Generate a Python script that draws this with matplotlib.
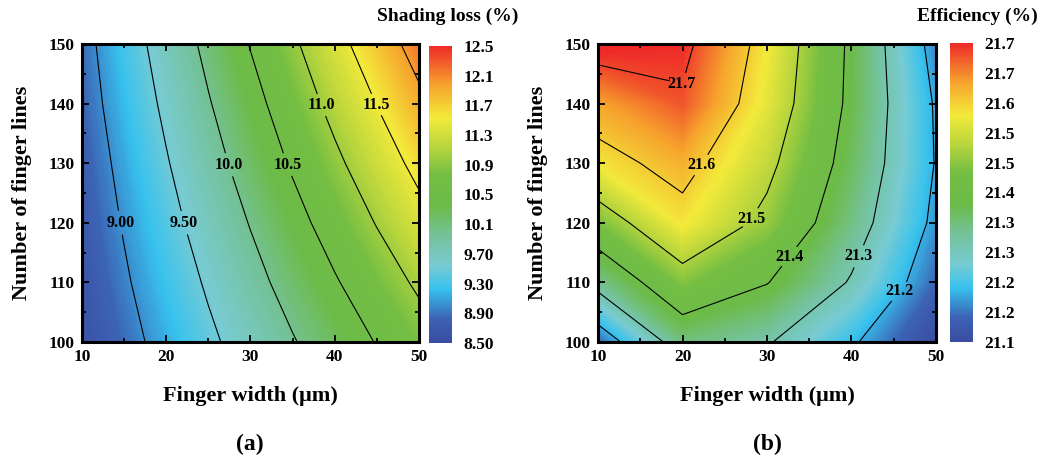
import numpy as np
import matplotlib
matplotlib.use('Agg')
import matplotlib.pyplot as plt
from matplotlib.colors import LinearSegmentedColormap, Normalize
from matplotlib.cm import ScalarMappable

# (a) shading loss (%) on finger width x number of finger lines
width_a = [10, 15, 20, 25, 30, 35, 40, 45, 50]
lines_a = [100, 110, 120, 130, 140, 150]
shading = [
    [8.59, 8.86, 9.14, 9.42, 9.69, 9.97, 10.24, 10.52, 10.80],
    [8.64, 8.95, 9.25, 9.55, 9.86, 10.16, 10.46, 10.77, 11.07],
    [8.70, 9.03, 9.36, 9.69, 10.02, 10.35, 10.69, 11.02, 11.35],
    [8.75, 9.11, 9.47, 9.83, 10.19, 10.55, 10.91, 11.27, 11.62],
    [8.81, 9.20, 9.58, 9.97, 10.35, 10.74, 11.13, 11.51, 11.90],
    [8.86, 9.28, 9.69, 10.11, 10.52, 10.93, 11.35, 11.76, 12.18],
]
levels_a = [9.0, 9.5, 10.0, 10.5, 11.0, 11.5]   # labelled
extra_a = [12.0]                                 # drawn, no label
cbar_a = [8.50, 8.90, 9.30, 9.70, 10.1, 10.5, 10.9, 11.3, 11.7, 12.1, 12.5]
cbar_a_labels = ['8.50', '8.90', '9.30', '9.70', '10.1', '10.5', '10.9',
                 '11.3', '11.7', '12.1', '12.5']

# (b) efficiency (%)
width_b = [10, 20, 30, 40, 50]
lines_b = [100, 110, 120, 130, 140, 150]
efficiency = [
    [21.147, 21.345, 21.307, 21.210, 21.098],
    [21.329, 21.465, 21.403, 21.293, 21.150],
    [21.456, 21.575, 21.480, 21.340, 21.183],
    [21.575, 21.625, 21.520, 21.367, 21.196],
    [21.635, 21.690, 21.555, 21.382, 21.192],
    [21.735, 21.720, 21.570, 21.385, 21.170],
]
levels_b = [21.2, 21.3, 21.4, 21.5, 21.6, 21.7]
extra_b = [21.1]
cbar_b_lim = (21.1, 21.72)
cbar_b_labels = ['21.1', '21.2', '21.2', '21.3', '21.3', '21.4', '21.5',
                 '21.5', '21.6', '21.7', '21.7']

plt.rcParams['font.family'] = ['Liberation Serif', 'DejaVu Serif']
plt.rcParams['font.weight'] = 'bold'
plt.rcParams['axes.labelweight'] = 'bold'

cmap = LinearSegmentedColormap.from_list('origin', [
    (0.00, '#3A4DA0'), (0.08, '#3C62B4'), (0.18, '#37C2EE'),
    (0.26, '#78CBD2'), (0.36, '#74C29A'), (0.46, '#6CBB48'),
    (0.57, '#74BE43'), (0.66, '#B8D53C'), (0.76, '#F3EA3A'),
    (0.87, '#F6A32D'), (1.00, '#EE2B29')])

fig = plt.figure(figsize=(10.4, 4.58), dpi=100)
ax_a = fig.add_axes([0.0788, 0.2533, 0.324, 0.6507])
cax_a = fig.add_axes([0.4125, 0.2511, 0.0221, 0.6485])
ax_b = fig.add_axes([0.575, 0.2533, 0.325, 0.6507])
cax_b = fig.add_axes([0.9135, 0.2533, 0.0221, 0.6528])


def panel(ax, cax, xs, ys, z, vmin, vmax, levels, extra, spots, fmt,
          cticks, clabels, title, tx):
    z = np.array(z)
    norm = Normalize(vmin, vmax)
    ax.contourf(xs, ys, z, levels=np.linspace(vmin, vmax, 300), cmap=cmap,
                norm=norm, extend='both')
    ax.contour(xs, ys, z, levels=extra, colors='k', linewidths=0.8)
    cs = ax.contour(xs, ys, z, levels=levels, colors='k', linewidths=0.8)
    txts = ax.clabel(cs, manual=spots, fmt=fmt, fontsize=11.5, inline=True,
                     inline_spacing=-2)
    for t in txts:
        t.set_fontweight('bold')
        t.set_rotation(0)
    ax.set_xlim(10, 50)
    ax.set_ylim(100, 150)
    ax.set_xticks([10, 20, 30, 40, 50])
    ax.set_xticks([15, 25, 35, 45], minor=True)
    ax.set_yticks([100, 110, 120, 130, 140, 150])
    ax.set_yticks([105, 115, 125, 135, 145], minor=True)
    ax.tick_params(which='both', direction='in', top=True, right=True,
                   labelsize=12.5, width=1.3, pad=5)
    ax.tick_params(which='major', length=5)
    ax.tick_params(which='minor', length=3)
    for s in ax.spines.values():
        s.set_linewidth(2.2)
    ax.set_xlabel('Finger width (\u03bcm)', fontsize=16, labelpad=15)
    ax.set_ylabel('Number of finger lines', fontsize=16, labelpad=12)

    cb = fig.colorbar(ScalarMappable(norm=norm, cmap=cmap), cax=cax)
    cb.outline.set_visible(False)
    cb.set_ticks(cticks)
    cb.set_ticklabels(clabels)
    cax.tick_params(length=0, labelsize=12.5, pad=8)
    fig.text(tx, 1 - 16 / 458, title, fontsize=14, fontweight='bold',
             ha='center', va='center')


panel(ax_a, cax_a, width_a, lines_a, shading, 8.5, 12.5, levels_a, extra_a,
      [(14.5, 120), (22.1, 120), (27.6, 129.8), (34.5, 129.8),
       (38.5, 139.8), (44.9, 139.8)],
      lambda v: f'{v:.2f}' if v < 10 else f'{v:.1f}',
      cbar_a, cbar_a_labels, 'Shading loss (%)', 448 / 1040)

panel(ax_b, cax_b, width_b, lines_b, efficiency, cbar_b_lim[0], cbar_b_lim[1],
      levels_b, extra_b,
      [(45.9, 108.2), (41.3, 114.1), (32.4, 114.6), (27.1, 121.6),
       (22.2, 129.7), (19.9, 143.4)],
      lambda v: f'{v:.1f}',
      np.linspace(cbar_b_lim[0], cbar_b_lim[1], 11), cbar_b_labels,
      'Efficiency (%)', 977 / 1040)

fig.text(250 / 1040, 1 - 444 / 458, '(a)', fontsize=17, fontweight='bold',
         ha='center', va='center')
fig.text(767 / 1040, 1 - 444 / 458, '(b)', fontsize=17, fontweight='bold',
         ha='center', va='center')

fig.savefig('out.png', dpi=100)
